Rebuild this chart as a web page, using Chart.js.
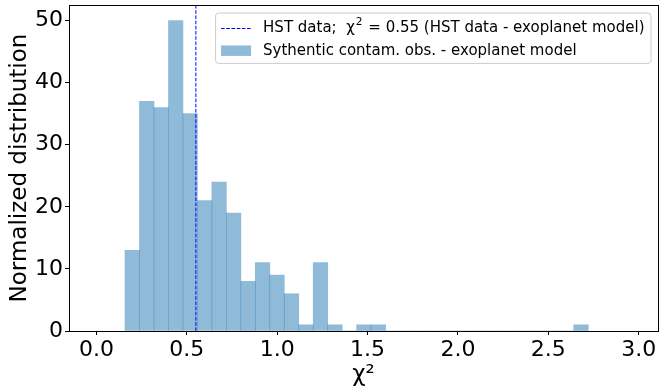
<!DOCTYPE html>
<html>
<head>
<meta charset="utf-8">
<script src="https://cdn.jsdelivr.net/npm/chart.js@4.4.0/dist/chart.umd.min.js"></script>
<style>
  html, body { margin: 0; padding: 0; background: #fff; }
  #wrap { width: 659px; height: 389px; }
</style>
</head>
<body>
<div id="wrap"><canvas id="histChart" width="659" height="389"></canvas></div>
<script>
// chi^2 histogram: synthetic contaminated observations vs exoplanet model
const binStart = 0.158;
const binWidth = 0.0801;
const counts = [13, 37, 36, 50, 35, 21, 24, 19, 8, 11, 9, 6, 1, 11, 1, 0,
                1, 1, 0, 0, 0, 0, 0, 0, 0, 0, 0, 0, 0, 0, 0, 1];
const hstChi2 = 0.55;

const xTicks = [0.0, 0.5, 1.0, 1.5, 2.0, 2.5, 3.0];
const yTicks = [0, 10, 20, 30, 40, 50];
const xRange = [-0.152, 3.107];
const yRange = [0, 52.5];

const hstLabel = 'HST data;  χ² = ' + hstChi2.toFixed(2) + ' (HST data - exoplanet model)';
const synthLabel = 'Sythentic contam. obs. - exoplanet model';

const FONT = '"DejaVu Sans"';
Chart.defaults.font.family = FONT;
Chart.defaults.color = '#000';

// bins -> {x: centre, y: count}
const histPoints = counts.map((c, i) => ({ x: binStart + binWidth * (i + 0.5), y: c }));

// draws text, turning "²" into a small raised 2; returns the width
function richText(ctx, text, x, y, size, draw) {
    const parts = text.split('²');
    let cx = x;
    parts.forEach((p, i) => {
        ctx.font = size + 'px ' + FONT;
        if (draw) ctx.fillText(p, cx, y);
        cx += ctx.measureText(p).width;
        if (i < parts.length - 1) {
            ctx.font = (size * 0.7) + 'px ' + FONT;
            if (draw) ctx.fillText('2', cx + 1, y - size * 0.38);
            cx += ctx.measureText('2').width + 2;
        }
    });
    return cx - x;
}

// axes frame + legend box in the upper right corner
const frameLegend = {
    id: 'frameLegend',
    afterDraw(chart) {
        const { ctx, chartArea: a } = chart;
        ctx.save();
        ctx.strokeStyle = '#000';
        ctx.lineWidth = 1;
        ctx.strokeRect(Math.floor(a.left) + 0.5, Math.floor(a.top) + 0.5,
                       Math.floor(a.right) - Math.floor(a.left), Math.floor(a.bottom) - Math.floor(a.top));

        const f = 15;
        const pad = 0.4 * f, handleLen = 2 * f, textPad = 0.8 * f;
        const rowH = 1.03 * f, spacing = 0.5 * f, axPad = 0.5 * f;
        const items = [...chart.data.datasets].sort((p, q) => p.order - q.order);

        ctx.textBaseline = 'middle';
        ctx.textAlign = 'left';
        let maxW = 0;
        items.forEach(d => { maxW = Math.max(maxW, richText(ctx, d.label, 0, 0, f, false)); });

        const w = 2 * pad + handleLen + textPad + maxW;
        const h = 2 * pad + items.length * rowH + (items.length - 1) * spacing;
        const bx = a.right - axPad - w;
        const by = a.top + axPad;

        ctx.beginPath();
        ctx.roundRect(bx + 0.5, by + 0.5, w, h, 3);
        ctx.fillStyle = 'rgba(255,255,255,0.8)';
        ctx.fill();
        ctx.strokeStyle = '#cccccc';
        ctx.stroke();

        items.forEach((d, i) => {
            const cy = by + pad + rowH / 2 + 1.5 + i * (rowH + spacing);
            const hx = bx + pad;
            if (d.type === 'line') {
                ctx.beginPath();
                ctx.setLineDash(d.borderDash || []);
                ctx.strokeStyle = d.borderColor;
                ctx.lineWidth = d.borderWidth;
                ctx.moveTo(hx, Math.round(cy) + 0.5);
                ctx.lineTo(hx + handleLen, Math.round(cy) + 0.5);
                ctx.stroke();
                ctx.setLineDash([]);
            } else {
                ctx.fillStyle = d.backgroundColor;
                ctx.fillRect(hx, cy - 0.35 * f, handleLen, 0.7 * f);
            }
            ctx.fillStyle = '#000';
            richText(ctx, d.label, hx + handleLen + textPad, cy, f, true);
        });
        ctx.restore();
    }
};

new Chart(document.getElementById('histChart'), {
    type: 'bar',
    data: {
        datasets: [
            {
                type: 'line',
                label: hstLabel,
                data: [{ x: hstChi2, y: yRange[0] }, { x: hstChi2, y: yRange[1] }],
                borderColor: '#0000ff',
                borderWidth: 1,
                borderDash: [3.6, 1.6],
                pointRadius: 0,
                fill: false,
                order: 0
            },
            {
                type: 'bar',
                label: synthLabel,
                data: histPoints,
                backgroundColor: 'rgba(31,119,180,0.5)',
                borderWidth: 0,
                barPercentage: 1,
                categoryPercentage: 1,
                order: 1
            }
        ]
    },
    options: {
        responsive: false,
        animation: false,
        devicePixelRatio: 1,
        events: [],
        layout: { padding: { top: 5, right: 1, left: 0, bottom: 0 } },
        plugins: { legend: { display: false }, tooltip: { enabled: false } },
        scales: {
            x: {
                type: 'linear',
                min: xRange[0],
                max: xRange[1],
                offset: false,
                afterBuildTicks: s => { s.ticks = xTicks.map(v => ({ value: v })); },
                afterFit: s => { s.height = 58; s.paddingLeft = 0; s.paddingRight = 0; },
                ticks: {
                    font: { size: 22 },
                    color: '#000',
                    padding: 2,
                    maxRotation: 0,
                    autoSkip: false,
                    callback: v => v.toFixed(1)
                },
                grid: { display: true, drawOnChartArea: false, drawTicks: true, tickLength: 4, tickColor: '#000', offset: false },
                border: { display: false },
                title: { display: true, text: 'χ²', font: { size: 23 }, color: '#000', padding: { top: 0, bottom: 0 } }
            },
            y: {
                min: yRange[0],
                max: yRange[1],
                afterBuildTicks: s => { s.ticks = yTicks.map(v => ({ value: v })); },
                afterFit: s => { s.width = 69; s.paddingTop = 0; s.paddingBottom = 0; },
                ticks: {
                    font: { size: 22 },
                    color: '#000',
                    padding: 2,
                    callback: v => String(v)
                },
                grid: { display: true, drawOnChartArea: false, drawTicks: true, tickLength: 4, tickColor: '#000' },
                border: { display: false },
                title: { display: true, text: 'Normalized distribution', font: { size: 23 }, color: '#000', padding: { top: 6.5, bottom: 0 } }
            }
        }
    },
    plugins: [frameLegend]
});
</script>
</body>
</html>
